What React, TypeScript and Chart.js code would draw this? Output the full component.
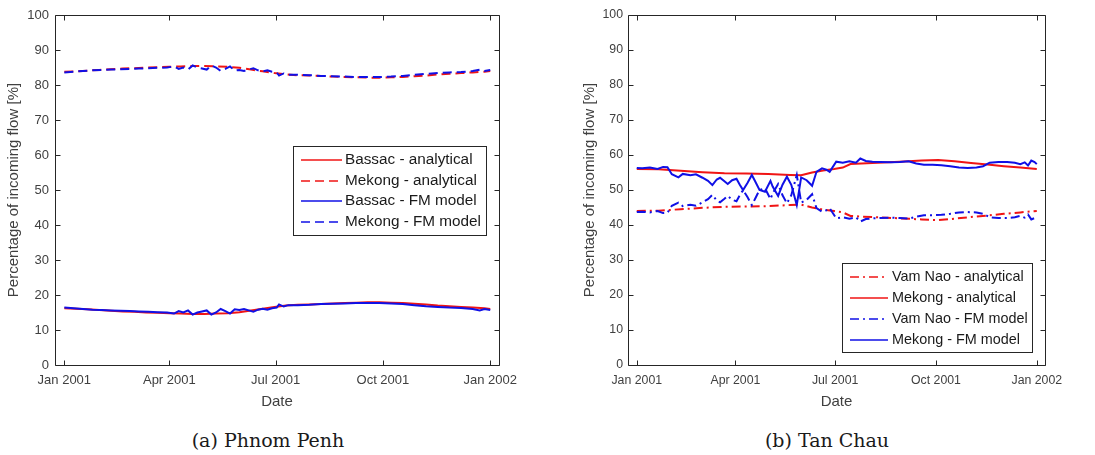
import React, { useEffect, useRef } from 'react';
import { Chart, registerables } from 'chart.js';

Chart.register(...registerables);

// ---------- shared axis data ----------
const xTickValues = [0, 90, 181, 273, 365];
const xTickLabels = ['Jan 2001', 'Apr 2001', 'Jul 2001', 'Oct 2001', 'Jan 2002'];
const xMinDay = -8;
const xMaxDay = 372.5;
const yMin = 0;
const yMax = 100;
const yStep = 10;

// ---------- (a) Phnom Penh ----------
const ppAnalyticalDays = [0, 10, 20, 30, 40, 50, 60, 70, 80, 90, 100, 110, 120, 130, 140, 150, 160, 170, 180, 190, 200, 210, 220, 230, 240, 250, 260, 270, 280, 290, 300, 310, 320, 330, 340, 350, 360, 365];
const ppBassacAnalytical = [16.2, 16.1, 15.9, 15.7, 15.5, 15.3, 15.2, 15.0, 14.9, 14.8, 14.7, 14.6, 14.6, 14.7, 14.8, 15.1, 15.6, 16.1, 16.6, 17.0, 17.2, 17.3, 17.4, 17.6, 17.7, 17.8, 17.9, 17.9, 17.8, 17.7, 17.5, 17.3, 17.0, 16.8, 16.6, 16.4, 16.2, 16.0];
const ppMekongAnalytical = [83.8, 83.9, 84.1, 84.3, 84.5, 84.7, 84.8, 85.0, 85.1, 85.2, 85.3, 85.4, 85.4, 85.3, 85.2, 84.9, 84.4, 83.9, 83.4, 83.0, 82.8, 82.7, 82.6, 82.4, 82.3, 82.2, 82.1, 82.1, 82.2, 82.3, 82.5, 82.7, 83.0, 83.2, 83.4, 83.6, 83.8, 84.0];
const ppFMDays = [0, 8, 16, 24, 32, 40, 48, 56, 64, 72, 80, 88, 94, 98, 102, 106, 110, 114, 118, 122, 126, 130, 134, 138, 142, 146, 150, 154, 158, 162, 166, 170, 174, 178, 182, 184, 188, 192, 200, 210, 220, 230, 240, 250, 260, 270, 280, 290, 300, 310, 320, 330, 340, 350, 356, 360, 365];
const ppBassacFM = [16.4, 16.2, 16.0, 15.8, 15.7, 15.6, 15.5, 15.4, 15.3, 15.2, 15.1, 15.0, 14.7, 15.4, 15.0, 15.6, 14.4, 15.0, 15.3, 15.6, 14.4, 15.0, 16.0, 15.4, 14.7, 15.9, 15.7, 16.0, 15.6, 15.2, 15.8, 16.1, 15.8, 16.2, 16.4, 17.3, 16.7, 17.1, 17.1, 17.2, 17.4, 17.5, 17.6, 17.7, 17.7, 17.7, 17.6, 17.4, 17.1, 16.8, 16.6, 16.4, 16.3, 16.0, 15.6, 16.0, 15.7];
const ppMekongFM = [83.6, 83.8, 84.0, 84.2, 84.3, 84.4, 84.5, 84.6, 84.7, 84.8, 84.9, 85.0, 85.3, 84.6, 85.0, 84.4, 85.6, 85.0, 84.7, 84.4, 85.6, 85.0, 84.0, 84.6, 85.3, 84.1, 84.3, 84.0, 84.4, 84.8, 84.2, 83.9, 84.2, 83.8, 83.6, 82.7, 83.3, 82.9, 82.9, 82.8, 82.6, 82.5, 82.4, 82.3, 82.3, 82.3, 82.4, 82.6, 82.9, 83.2, 83.4, 83.6, 83.7, 84.0, 84.4, 84.0, 84.3];

// ---------- (b) Tan Chau ----------
const tcAnalyticalDays = [0, 20, 40, 60, 80, 100, 120, 140, 150, 160, 170, 180, 188, 195, 205, 220, 240, 260, 275, 290, 305, 320, 335, 350, 365];
const tcVamNaoAnalytical = [44.0, 44.1, 44.5, 44.9, 45.2, 45.3, 45.4, 45.7, 45.8, 45.0, 44.4, 44.0, 43.6, 42.6, 42.4, 42.2, 41.9, 41.6, 41.4, 41.8, 42.3, 42.7, 43.2, 43.6, 44.0];
const tcMekongAnalytical = [56.0, 55.9, 55.5, 55.1, 54.8, 54.7, 54.6, 54.3, 54.2, 55.0, 55.6, 56.0, 56.4, 57.4, 57.6, 57.8, 58.1, 58.4, 58.6, 58.2, 57.7, 57.3, 56.8, 56.4, 56.0];
const tcFMDays = [0, 5, 12, 19, 24, 28, 32, 38, 42, 49, 54, 60, 65, 69, 73, 76, 80, 83, 87, 91, 94, 97, 101, 105, 108, 112, 117, 122, 124, 129, 133, 137, 141, 146, 150, 155, 160, 164, 169, 173, 176, 182, 188, 194, 200, 204, 209, 215, 222, 232, 240, 248, 255, 262, 270, 278, 286, 294, 302, 310, 316, 322, 330, 338, 345, 350, 354, 357, 360, 363, 365];
const tcVamNaoFM = [43.7, 43.8, 43.6, 44.0, 43.4, 43.5, 45.5, 46.4, 45.4, 45.8, 45.5, 46.5, 47.4, 48.6, 47.0, 46.5, 47.5, 48.3, 47.2, 46.8, 48.5, 50.0, 48.0, 45.7, 47.5, 50.0, 50.5, 47.4, 49.0, 51.7, 48.5, 46.2, 48.5, 54.3, 46.4, 47.2, 48.8, 44.8, 43.8, 44.2, 44.8, 41.9, 42.2, 41.8, 42.2, 41.0, 41.7, 41.9, 42.0, 42.1, 42.0, 41.8, 42.4, 42.8, 42.8, 42.9, 43.2, 43.6, 43.7, 43.6, 43.2, 42.2, 42.0, 42.0, 42.2, 42.6, 42.1, 43.0, 41.6, 42.0, 42.6];
const tcMekongFM = [56.3, 56.2, 56.4, 56.0, 56.6, 56.5, 54.5, 53.6, 54.6, 54.2, 54.5, 53.5, 52.6, 51.4, 53.0, 53.5, 52.5, 51.7, 52.8, 53.2, 51.5, 50.0, 52.0, 54.3, 52.5, 50.0, 49.5, 52.6, 51.0, 48.3, 51.5, 53.8, 51.5, 45.7, 53.6, 52.8, 51.2, 55.2, 56.2, 55.8, 55.2, 58.1, 57.8, 58.2, 57.8, 59.0, 58.3, 58.1, 58.0, 57.9, 58.0, 58.2, 57.6, 57.2, 57.2, 57.1, 56.8, 56.4, 56.3, 56.4, 56.8, 57.8, 58.0, 58.0, 57.8, 57.4, 57.9, 57.0, 58.4, 58.0, 57.4];

// ---------- styles ----------
const RED = '#f01414';
const BLUE = '#1010e6';
const AXIS_COLOR = '#262626';
const TEXT_COLOR = '#404040';
const SANS = "'Liberation Sans', Arial, Helvetica, sans-serif";
const DASH = [9, 5];
const DASHDOT = [9, 4, 2, 4];

const pairs = (xs: number[], ys: number[]) => xs.map((x, i) => ({ x, y: ys[i] }));

const boxPlugin = {
  id: 'matlabBox',
  afterDatasetsDraw(chart: any) {
    const { ctx, chartArea: a, scales } = chart;
    const tl = 5;
    ctx.save();
    ctx.strokeStyle = AXIS_COLOR;
    ctx.lineWidth = 1;
    ctx.beginPath();
    const L = Math.round(a.left) + 0.5;
    const R = Math.round(a.right) + 0.5;
    const T = Math.round(a.top) + 0.5;
    const B = Math.round(a.bottom) + 0.5;
    ctx.rect(L, T, R - L, B - T);
    scales.x.ticks.forEach((t: any) => {
      const px = Math.round(scales.x.getPixelForValue(t.value)) + 0.5;
      ctx.moveTo(px, B);
      ctx.lineTo(px, B - tl);
      ctx.moveTo(px, T);
      ctx.lineTo(px, T + tl);
    });
    scales.y.ticks.forEach((t: any) => {
      const py = Math.round(scales.y.getPixelForValue(t.value)) + 0.5;
      ctx.moveTo(L, py);
      ctx.lineTo(L + tl, py);
      ctx.moveTo(R, py);
      ctx.lineTo(R - tl, py);
    });
    ctx.stroke();
    ctx.restore();
  },
};

const legendPlugin = {
  id: 'matlabLegend',
  afterDraw(chart: any) {
    const o = chart.options.plugins.matlabLegend;
    if (!o) return;
    const { ctx } = chart;
    ctx.save();
    ctx.fillStyle = '#ffffff';
    ctx.fillRect(o.x, o.y, o.w, o.h);
    ctx.strokeStyle = AXIS_COLOR;
    ctx.lineWidth = 1;
    ctx.strokeRect(Math.round(o.x) + 0.5, Math.round(o.y) + 0.5, Math.round(o.w), Math.round(o.h));
    ctx.font = `${o.fontSize}px ${SANS}`;
    ctx.textBaseline = 'middle';
    ctx.textAlign = 'left';
    chart.data.datasets.forEach((ds: any, i: number) => {
      const yy = Math.round(o.rowY0 + i * o.rowStep);
      ctx.strokeStyle = ds.borderColor;
      ctx.lineWidth = 1.5;
      ctx.setLineDash(ds.borderDash || []);
      ctx.beginPath();
      ctx.moveTo(o.sampleX0, yy);
      ctx.lineTo(o.sampleX1, yy);
      ctx.stroke();
      ctx.setLineDash([]);
      ctx.fillStyle = '#1a1a1a';
      ctx.fillText(ds.label, o.textX, yy);
    });
    ctx.restore();
  },
};

function buildConfig(datasets: any[], geo: any) {
  return {
    type: 'line',
    data: { datasets },
    plugins: [boxPlugin, legendPlugin],
    options: {
      responsive: false,
      animation: false,
      devicePixelRatio: 1,
      layout: { padding: { left: 0, top: geo.top, right: geo.right, bottom: 0 } },
      elements: { point: { radius: 0 }, line: { tension: 0 } },
      plugins: {
        legend: { display: false },
        tooltip: { enabled: false },
        matlabLegend: geo.legend,
      },
      scales: {
        x: {
          type: 'linear',
          min: xMinDay,
          max: xMaxDay,
          grid: { display: false, drawTicks: false },
          border: { display: false },
          afterBuildTicks: (scale: any) => {
            scale.ticks = xTickValues.map((v) => ({ value: v }));
          },
          afterFit: (scale: any) => {
            scale.height = geo.xAxisHeight;
          },
          ticks: {
            autoSkip: false,
            maxRotation: 0,
            padding: 8,
            color: TEXT_COLOR,
            font: { family: SANS, size: geo.tickSize },
            callback: (_v: any, i: number) => xTickLabels[i],
          },
          title: {
            display: true,
            text: 'Date',
            color: TEXT_COLOR,
            font: { family: SANS, size: 15 },
            padding: { top: 0, bottom: 9 },
          },
        },
        y: {
          type: 'linear',
          min: yMin,
          max: yMax,
          grid: { display: false, drawTicks: false },
          border: { display: false },
          afterFit: (scale: any) => {
            scale.width = geo.yAxisWidth;
          },
          ticks: {
            stepSize: yStep,
            padding: geo.yTickPad,
            color: TEXT_COLOR,
            font: { family: SANS, size: geo.tickSize },
          },
          title: {
            display: true,
            text: 'Percentage of incoming flow [%]',
            color: TEXT_COLOR,
            font: { family: SANS, size: 15 },
            padding: { top: geo.yTitlePad, bottom: 0 },
          },
        },
      },
    },
  };
}

function line(label: string, xs: number[], ys: number[], color: string, dash: number[], order: number) {
  return {
    label,
    data: pairs(xs, ys),
    borderColor: color,
    backgroundColor: color,
    borderWidth: 2,
    borderDash: dash,
    fill: false,
    pointRadius: 0,
    order,
  };
}

function ChartCanvas({ width, height, make }: { width: number; height: number; make: () => any }) {
  const ref = useRef<HTMLCanvasElement | null>(null);
  useEffect(() => {
    if (!ref.current) return;
    const chart = new Chart(ref.current, make());
    return () => chart.destroy();
  }, []);
  return <canvas ref={ref} width={width} height={height} style={{ display: 'block', width, height }} />;
}

export default function App() {
  const makeLeft = () =>
    buildConfig(
      [
        line('Bassac - analytical', ppAnalyticalDays, ppBassacAnalytical, RED, [], 2),
        line('Mekong - analytical', ppAnalyticalDays, ppMekongAnalytical, RED, DASH, 2),
        line('Bassac - FM model', ppFMDays, ppBassacFM, BLUE, [], 1),
        line('Mekong - FM model', ppFMDays, ppMekongFM, BLUE, DASH, 1),
      ],
      {
        top: 15,
        right: 41,
        yAxisWidth: 55,
        xAxisHeight: 55,
        yTickPad: 6,
        yTitlePad: 4.5,
        tickSize: 13,
        legend: { x: 293, y: 146, w: 193, h: 89, rowY0: 160, rowStep: 20.7, sampleX0: 301, sampleX1: 342, textX: 345, fontSize: 15.3 },
      }
    );
  const makeRight = () =>
    buildConfig(
      [
        line('Vam Nao - analytical', tcAnalyticalDays, tcVamNaoAnalytical, RED, DASHDOT, 2),
        line('Mekong - analytical', tcAnalyticalDays, tcMekongAnalytical, RED, [], 2),
        line('Vam Nao - FM model', tcFMDays, tcVamNaoFM, BLUE, DASHDOT, 1),
        line('Mekong - FM model', tcFMDays, tcMekongFM, BLUE, [], 1),
      ],
      {
        top: 15,
        right: 50,
        yAxisWidth: 88,
        xAxisHeight: 55,
        yTickPad: 5,
        yTitlePad: 41,
        tickSize: 12.3,
        legend: { x: 302, y: 263, w: 190, h: 89, rowY0: 276.7, rowStep: 21.1, sampleX0: 310, sampleX1: 348, textX: 352, fontSize: 14.4 },
      }
    );
  const caption: React.CSSProperties = {
    position: 'absolute',
    top: 429,
    width: 400,
    textAlign: 'center',
    fontFamily: "'DejaVu Serif', serif",
    fontSize: 19,
    lineHeight: '22px',
    color: '#1a1a1a',
  };
  return (
    <div style={{ position: 'absolute', left: 0, top: 0, width: 1095, height: 455, background: '#ffffff', overflow: 'hidden' }}>
      <div style={{ position: 'absolute', left: 0, top: 0 }}>
        <ChartCanvas width={540} height={420} make={makeLeft} />
      </div>
      <div style={{ position: 'absolute', left: 540, top: 0 }}>
        <ChartCanvas width={555} height={420} make={makeRight} />
      </div>
      <div style={{ ...caption, left: 68 }}>(a) Phnom Penh</div>
      <div style={{ ...caption, left: 627 }}>(b) Tan Chau</div>
    </div>
  );
}
